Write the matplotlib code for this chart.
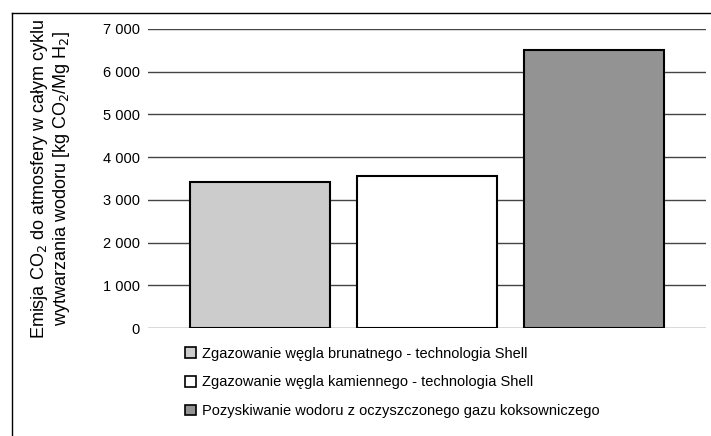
import matplotlib.pyplot as plt
from matplotlib.patches import Patch
from matplotlib.lines import Line2D

plt.rcParams['font.family'] = ['Liberation Sans', 'DejaVu Sans']

categories = [
    "Zgazowanie węgla brunatnego - technologia Shell",
    "Zgazowanie węgla kamiennego - technologia Shell",
    "Pozyskiwanie wodoru z oczyszczonego gazu koksowniczego",
]
values = [3420, 3570, 6500]
colors = ["#cccccc", "#ffffff", "#939393"]
yticks = [0, 1000, 2000, 3000, 4000, 5000, 6000, 7000]
ytick_labels = ["0", "1 000", "2 000", "3 000", "4 000", "5 000", "6 000", "7 000"]

W, H = 711, 436
fig = plt.figure(figsize=(W / 100, H / 100), dpi=100)
ax = fig.add_axes([148 / W, 1 - 328 / H, (706 - 148) / W, (328 - 29) / H])

ax.set_axisbelow(True)
ax.yaxis.grid(True, color="#444444", linewidth=1.0)
ax.bar(range(3), values, width=0.838, color=colors, edgecolor="black", linewidth=1.5, zorder=3)

ax.set_xlim(-0.67, 2.67)
ax.set_ylim(0, 7000)
ax.set_yticks(yticks)
ax.set_yticklabels(ytick_labels, fontsize=10.5)
ax.tick_params(axis="y", length=0, pad=6)
ax.set_xticks([])
for s in ax.spines.values():
    s.set_visible(False)

ax.set_ylabel("Emisja CO$_2$ do atmosfery w całym cyklu\nwytwarzania wodoru [kg CO$_2$/Mg H$_2$]",
              fontsize=13, labelpad=22, linespacing=1.1)

handles = [Patch(facecolor=c, edgecolor="black", linewidth=1.2) for c in colors]
fig.legend(handles, categories, loc="upper left", bbox_to_anchor=(179 / W, 1 - 341 / H),
           frameon=False, fontsize=10.5, handlelength=0.75, handleheight=0.75,
           handletextpad=0.4, labelspacing=1.0, borderaxespad=0)

# outer frame
fig.add_artist(Line2D([12 / W, 1], [1 - 13 / H, 1 - 13 / H], color="black", linewidth=1.0))
fig.add_artist(Line2D([12 / W, 12 / W], [0, 1 - 13 / H], color="black", linewidth=1.0))

fig.savefig("out.png", dpi=100)
